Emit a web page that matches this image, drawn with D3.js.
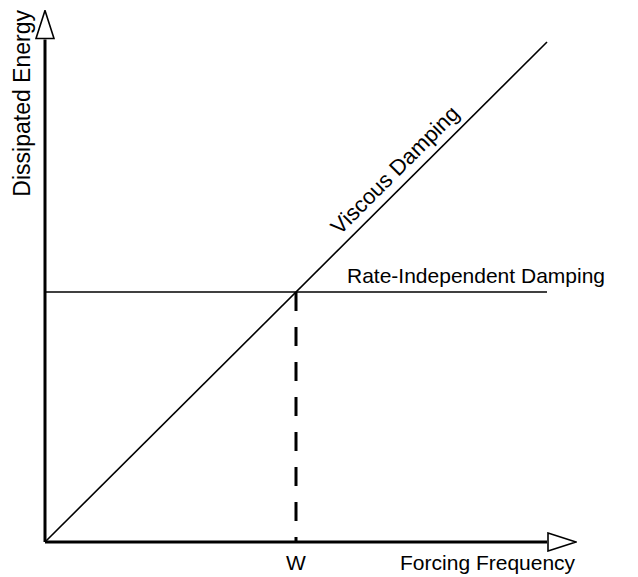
<!DOCTYPE html>
<html>
<head>
<meta charset="utf-8">
<script src="https://cdn.jsdelivr.net/npm/d3@7"></script>
<style>
  body { margin: 0; background: #fff; }
  text { font-family: "Liberation Sans", Arial, sans-serif; fill: #000; }
</style>
</head>
<body>
<svg width="638" height="577"></svg>
<script>
// frequency / energy in normalised units (crossing at w = 0.5)
var viscous = [{f: 0, e: 0}, {f: 1, e: 1}];
var rateIndependent = [{f: 0, e: 0.5}, {f: 1, e: 0.5}];
var crossFreq = 0.5;
var axisEnd = {x: 1.06, y: 1.065};
var labels = {
    x: "Forcing Frequency",
    y: "Dissipated Energy",
    w: "W",
    viscous: "Viscous Damping",
    rate: "Rate-Independent Damping"
};

var svg = d3.select("svg");

var x = d3.scaleLinear().domain([0, 1]).range([45, 547]),
    y = d3.scaleLinear().domain([0, 1]).range([542, 42]);

var line = d3.line()
    .x(function(d) { return x(d.f); })
    .y(function(d) { return y(d.e); });

var defs = svg.append("defs");
defs.append("marker")
    .attr("id", "arrow")
    .attr("viewBox", "0 0 30 20")
    .attr("refX", 0)
    .attr("refY", 10)
    .attr("markerWidth", 30)
    .attr("markerHeight", 20)
    .attr("markerUnits", "userSpaceOnUse")
    .attr("orient", "auto")
    .append("path")
    .attr("d", "M1,1 L29,10 L1,19 Z")
    .attr("fill", "#fff")
    .attr("stroke", "#000")
    .attr("stroke-width", 1.6);

// axes
var axisLen = {x: 1.0, y: 1.005};
svg.append("path")
    .attr("d", line([{f: 0, e: 0}, {f: axisLen.x, e: 0}]))
    .attr("stroke", "#000")
    .attr("stroke-width", 3)
    .attr("fill", "none")
    .attr("marker-end", "url(#arrow)");

svg.append("path")
    .attr("d", line([{f: 0, e: 0}, {f: 0, e: axisLen.y}]))
    .attr("stroke", "#000")
    .attr("stroke-width", 3)
    .attr("fill", "none")
    .attr("marker-end", "url(#arrow)");

// damping lines
svg.append("path")
    .attr("d", line(viscous))
    .attr("stroke", "#000")
    .attr("stroke-width", 1.6)
    .attr("fill", "none");

svg.append("path")
    .attr("d", line(rateIndependent))
    .attr("stroke", "#000")
    .attr("stroke-width", 1.6)
    .attr("fill", "none");

// dashed drop line at w
svg.append("path")
    .attr("d", line([{f: crossFreq, e: rateIndependent[0].e}, {f: crossFreq, e: 0}]))
    .attr("stroke", "#000")
    .attr("stroke-width", 3)
    .attr("stroke-dasharray", "19,16")
    .attr("fill", "none");

// text
svg.append("text")
    .attr("x", x(crossFreq))
    .attr("y", 570)
    .attr("text-anchor", "middle")
    .style("font-size", "21px")
    .text(labels.w);

svg.append("text")
    .attr("x", x(axisEnd.x) - 2)
    .attr("y", 570)
    .attr("text-anchor", "end")
    .style("font-size", "21px")
    .text(labels.x);

svg.append("text")
    .attr("transform", "translate(30," + 10 + ") rotate(-90)")
    .attr("text-anchor", "end")
    .style("font-size", "23px")
    .text(labels.y);

svg.append("text")
    .attr("x", 347)
    .attr("y", y(rateIndependent[0].e) - 9)
    .style("font-size", "21px")
    .text(labels.rate);

var vx = x(0.6), vy = y(0.6);
svg.append("text")
    .attr("transform", "translate(" + vx + "," + vy + ") rotate(-45)")
    .attr("dy", -9)
    .style("font-size", "22px")
    .text(labels.viscous);
</script>
</body>
</html>
